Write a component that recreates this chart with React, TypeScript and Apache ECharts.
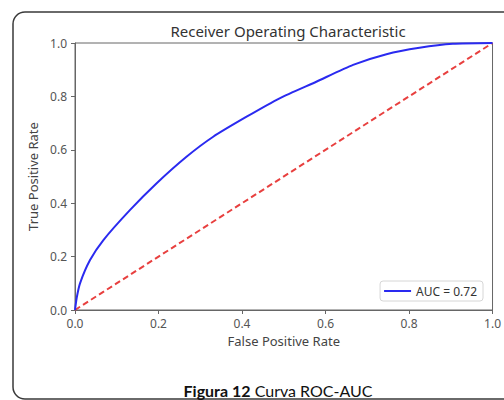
import React, { useEffect, useRef } from "react";
import * as echarts from "echarts";

const fpr = [0, 0.004, 0.012, 0.036, 0.068, 0.132, 0.195, 0.267, 0.331, 0.411, 0.49, 0.578, 0.666, 0.746, 0.825, 0.905, 1.0];
const tpr = [0, 0.045, 0.1, 0.187, 0.262, 0.375, 0.474, 0.574, 0.649, 0.724, 0.793, 0.855, 0.918, 0.958, 0.982, 0.997, 1.0];
const diagX = [0, 1];
const diagY = [0, 1];
const titleText = "Receiver Operating Characteristic";
const xName = "False Positive Rate";
const yName = "True Positive Rate";
const legendName = "AUC = 0.72";
const captionBold = "Figura 12";
const captionRest = " Curva ROC-AUC";

export default function App() {
  const ref = useRef<HTMLDivElement>(null);
  useEffect(() => {
    document.body.style.margin = "0";
    const chart = echarts.init(ref.current!, null, { renderer: "svg" });
    const font = "Noto Sans";
    chart.setOption({
      animation: false,
      backgroundColor: "#ffffff",
      title: {
        text: titleText,
        left: 283,
        textAlign: "center",
        top: 18,
        textStyle: { fontFamily: font, fontSize: 15, fontWeight: "normal", color: "#333" },
      },
      grid: {
        left: 75,
        right: 11,
        top: 43,
        bottom: 90,
        show: true,
        borderColor: "#666",
        borderWidth: 1,
        backgroundColor: "transparent",
      },
      legend: {
        data: [{ name: legendName, icon: "rect" }],
        right: 21,
        top: 281,
        itemWidth: 27,
        itemHeight: 2,
        itemGap: 8,
        padding: [4, 6, 4, 4],
        borderColor: "#d6d6d6",
        borderWidth: 1,
        borderRadius: 3,
        backgroundColor: "#fff",
        textStyle: { fontFamily: font, fontSize: 12, color: "#333" },
      },
      xAxis: {
        type: "value",
        min: 0,
        max: 1,
        interval: 0.2,
        name: xName,
        nameLocation: "middle",
        nameGap: 24,
        nameTextStyle: { fontFamily: font, fontSize: 13, color: "#444" },
        axisLine: { show: true, lineStyle: { color: "#666", width: 1 } },
        axisTick: { show: true, inside: false, length: 4, lineStyle: { color: "#666" } },
        axisLabel: { margin: 7, fontFamily: font, fontSize: 12, color: "#555", formatter: (v: number) => v.toFixed(1) },
        splitLine: { show: false },
      },
      yAxis: {
        type: "value",
        min: 0,
        max: 1,
        interval: 0.2,
        name: yName,
        nameLocation: "middle",
        nameGap: 34,
        nameTextStyle: { fontFamily: font, fontSize: 13, color: "#444" },
        axisLine: { show: true, lineStyle: { color: "#666", width: 1 } },
        axisTick: { show: true, inside: false, length: 4, lineStyle: { color: "#666" } },
        axisLabel: { margin: 8, fontFamily: font, fontSize: 12, color: "#555", formatter: (v: number) => v.toFixed(1) },
        splitLine: { show: false },
      },
      series: [
        {
          name: "diag",
          type: "line",
          data: diagX.map((x, i) => [x, diagY[i]]),
          showSymbol: false,
          lineStyle: { color: "#e8403f", width: 2, type: [6, 3.5] },
          itemStyle: { color: "#e8403f" },
          z: 2,
        },
        {
          name: legendName,
          type: "line",
          data: fpr.map((x, i) => [x, tpr[i]]),
          showSymbol: false,
          smooth: 0.2,
          lineStyle: { color: "#2a2af0", width: 2 },
          itemStyle: { color: "#2a2af0" },
          z: 3,
        },
      ],
      graphic: [
        {
          type: "rect",
          shape: { x: 13, y: 12, width: 540, height: 387, r: 12 },
          style: { fill: "none", stroke: "#3a3a3a", lineWidth: 1.5 },
          silent: true,
          z: 0,
        },
        {
          type: "text",
          x: 278,
          y: 390,
          style: {
            text: "{b|" + captionBold + "}{n|" + captionRest + "}",
            align: "center",
            verticalAlign: "middle",
            rich: {
              b: { fontFamily: "Lato", fontSize: 16, fontWeight: "bold", fill: "#111" },
              n: { fontFamily: "Lato", fontSize: 16, fill: "#111" },
            },
          },
        },
      ],
    });
    return () => chart.dispose();
  }, []);
  return <div ref={ref} style={{ width: 504, height: 400 }} />;
}
